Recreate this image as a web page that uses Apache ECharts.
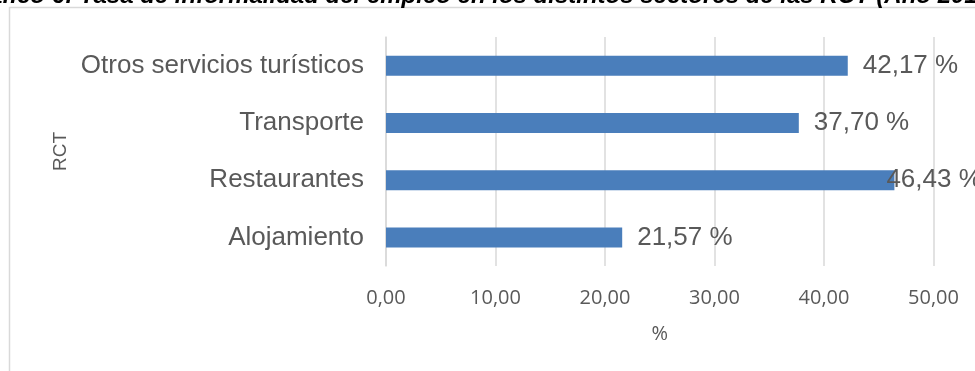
<!DOCTYPE html>
<html>
<head>
<meta charset="utf-8">
<script src="https://cdn.jsdelivr.net/npm/echarts@6/dist/echarts.min.js"></script>
<style>
  html, body { margin: 0; padding: 0; background: #fff; }
  #chart { width: 975px; height: 371px; }
</style>
</head>
<body>
<div id="chart"></div>
<script>
// datos (de abajo hacia arriba)
const categories = ['Alojamiento', 'Restaurantes', 'Transporte', 'Otros servicios turísticos']
const values = [21.57, 46.43, 37.70, 42.17]
const xTicks = [0, 10, 20, 30, 40, 50]

const titleText = 'Gráfico 6: Tasa de informalidad del empleo en los distintos sectores de las RCT (Año 2019)'
const textGray = '#595959'
const gridGray = '#d9d9d9'

const chart = echarts.init(document.getElementById('chart'))

const option = {
  backgroundColor: '#fff',
  animation: false,
  graphic: [
    {
      // marco del gráfico (se sale por la derecha y abajo)
      type: 'rect',
      shape: { x: 9.5, y: 7.5, width: 1000, height: 400 },
      style: { fill: 'none', stroke: gridGray, lineWidth: 1.5 },
      silent: true,
    },
    {
      // título cortado en la parte superior
      type: 'text',
      x: -39,
      y: -4,
      style: {
        text: titleText,
        fontFamily: 'Liberation Sans',
        fontStyle: 'italic',
        fontWeight: 'bold',
        fontSize: 24,
        fill: '#000',
        verticalAlign: 'middle',
      },
      silent: true,
    },
  ],
  grid: {
    left: 386,
    right: 41.5,
    top: 37,
    bottom: 105,
  },
  xAxis: {
    type: 'value',
    min: xTicks[0],
    max: xTicks[xTicks.length - 1],
    interval: 10,
    name: '%',
    nameLocation: 'middle',
    nameGap: 58,
    nameTextStyle: { fontFamily: 'Open Sans', fontSize: 20, color: textGray },
    axisLine: { show: false },
    axisTick: { show: false },
    axisLabel: {
      margin: 22,
      fontFamily: 'Open Sans',
      fontSize: 20,
      color: textGray,
      formatter: v => v.toFixed(2).replace('.', ','),
    },
    splitLine: { show: true, lineStyle: { color: gridGray, width: 1.5 } },
  },
  yAxis: {
    type: 'category',
    data: categories,
    name: 'RCT',
    nameLocation: 'middle',
    nameRotate: 90,
    nameGap: 315,
    nameTextStyle: { fontFamily: 'Liberation Sans', fontSize: 19, color: textGray },
    axisLine: { show: true, lineStyle: { color: gridGray, width: 1.5 } },
    axisTick: { show: false },
    axisLabel: {
      margin: 22,
      fontFamily: 'Liberation Sans',
      fontSize: 26,
      color: textGray,
    },
  },
  series: [
    {
      type: 'bar',
      barWidth: 20,
      data: values.map((v, i) =>
        // la etiqueta de Restaurantes queda montada sobre la barra
        i === 1 ? { value: v, label: { offset: [-23, 0] } } : v
      ),
      itemStyle: { color: '#4a7ebb' },
      label: {
        show: true,
        position: 'right',
        distance: 15,
        fontFamily: 'Liberation Sans',
        fontSize: 26,
        color: textGray,
        formatter: p => p.value.toFixed(2).replace('.', ',') + ' %',
      },
    },
  ],
}

chart.setOption(option)
</script>
</body>
</html>
